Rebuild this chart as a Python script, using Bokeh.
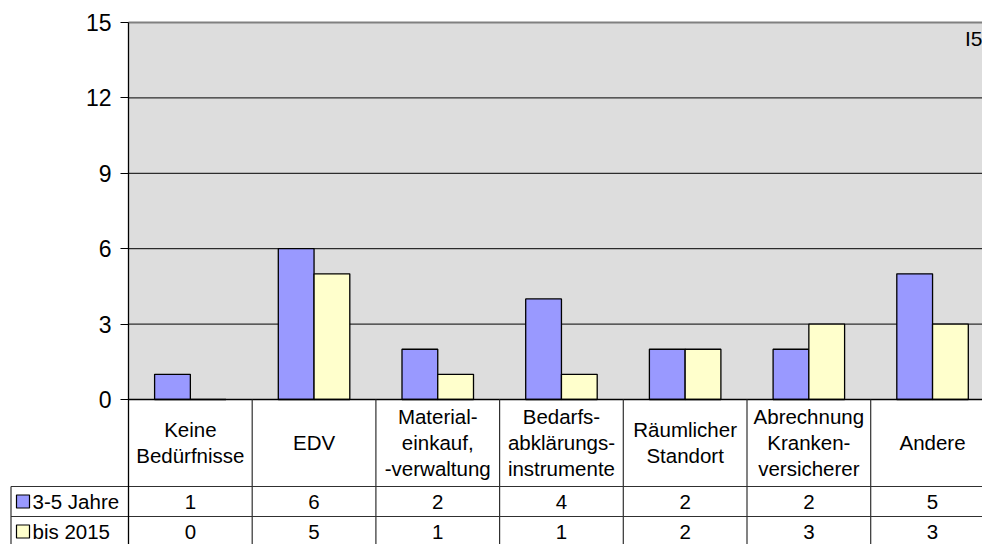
from bokeh.plotting import figure
from bokeh.models import Range1d, FixedTicker
from bokeh.core.properties import value
from bokeh.embed import file_html
from bokeh.resources import INLINE

# ---- data ----
categories = ["Keine\nBedürfnisse", "EDV", "Material-\neinkauf,\n-verwaltung",
              "Bedarfs-\nabklärungs-\ninstrumente", "Räumlicher\nStandort",
              "Abrechnung\nKranken-\nversicherer", "Andere"]
series_names = ["3-5 Jahre", "bis 2015"]
values_3_5 = [1, 6, 2, 4, 2, 2, 5]
values_2015 = [0, 5, 1, 1, 2, 3, 3]
y_ticks = [0, 3, 6, 9, 12, 15]
corner_label = "I5"

# ---- layout constants (figure pixel coordinates) ----
FONT = "Liberation Sans"
W, H = 982, 544
PX_X = 123.7          # pixels per category
PX_Y = 377 / 15.0     # pixels per unit
frame_left_px = 9
frame_top_px = 2
axis_px = 128
zero_px = 399
top15_px = 22
bottom_px = H
right_px = W

x_start = -(axis_px - frame_left_px) / PX_X
x_end = (right_px - axis_px) / PX_X
y_start = -(bottom_px - zero_px) / PX_Y
y_end = y_ticks[-1] + (top15_px - frame_top_px) / PX_Y

def py(screen_y):
    return -(screen_y - zero_px) / PX_Y

def px(screen_x):
    return (screen_x - axis_px) / PX_X

n = len(categories)
centers = [i + 0.5 for i in range(n)]
bw = 0.289
off = 0.1445

p = figure(width=W, height=H, x_range=Range1d(x_start, x_end), y_range=Range1d(y_start, y_end),
           output_backend="svg", toolbar_location=None, x_axis_location=None,
           y_axis_location="left", min_border_left=frame_left_px, min_border_right=0,
           min_border_top=frame_top_px, min_border_bottom=0)
p.outline_line_color = None
p.background_fill_color = "white"
p.border_fill_color = "white"
p.xgrid.visible = False
p.ygrid.visible = False

# plot area background
p.quad(left=[0], right=[x_end], bottom=[0], top=[y_ticks[-1]], fill_color="#DDDDDD", line_color=None)

# grid lines
inner = [t for t in y_ticks if 0 < t < y_ticks[-1]]
p.segment(x0=[0] * len(inner), x1=[x_end] * len(inner), y0=inner, y1=inner, line_color="black", line_width=1)
p.segment(x0=[0], x1=[x_end], y0=[y_ticks[-1]], y1=[y_ticks[-1]], line_color="#808080", line_width=2)

# bars
p.vbar(x=[c - off for c in centers], top=values_3_5, width=bw, bottom=0,
       fill_color="#9999FF", line_color="black", line_width=1.3)
p.vbar(x=[c + off for c in centers], top=values_2015, width=bw, bottom=0,
       fill_color="#FFFFCC", line_color="black", line_width=1.3)

# y axis (drawn at x = 0, its line continues down as the table's border)
ax = p.yaxis[0]
ax.fixed_location = 0
ax.ticker = FixedTicker(ticks=y_ticks)
ax.bounds = (y_start, y_ticks[-1])
ax.minor_tick_line_color = None
ax.major_tick_out = 8
ax.major_tick_in = 0
ax.axis_line_color = "black"
ax.axis_line_width = 1.3
ax.major_tick_line_color = "black"
ax.major_label_text_font = FONT
ax.major_label_text_font_size = "23px"
ax.major_label_text_color = "black"
ax.major_label_standoff = 9

# table lines
row1_top = py(486)
row2_top = py(516)
left_border = px(10.5)
p.segment(x0=[0], x1=[x_end], y0=[0], y1=[0], line_color="black", line_width=1.3)
p.segment(x0=[left_border, left_border], x1=[x_end, x_end], y0=[row1_top, row2_top], y1=[row1_top, row2_top],
          line_color="#303030", line_width=1.2)
bounds = list(range(1, n + 1))
p.segment(x0=bounds, x1=bounds, y0=[0] * n, y1=[y_start] * n, line_color="#303030", line_width=1.2)
p.segment(x0=[left_border], x1=[left_border], y0=[row1_top], y1=[y_start], line_color="#303030", line_width=1.2)

# category labels (header row)
p.text(x=centers, y=[py(442)] * n, text=categories, text_font=value(FONT), text_font_size="20.5px",
       text_align="center", text_baseline="middle", text_line_height=1.15, text_color="black")

# values rows
row_ys = [py(501), py(531)]
for vals, ry in zip([values_3_5, values_2015], row_ys):
    p.text(x=centers, y=[ry] * n, text=[str(v) for v in vals], text_font=value(FONT), text_font_size="20.5px",
           text_align="center", text_baseline="middle", text_color="black")

# legend keys
key_x = px(22.5)
p.scatter(x=[key_x, key_x], y=row_ys, marker="square", size=13,
          fill_color=["#9999FF", "#FFFFCC"], line_color="black", line_width=1.2)
p.text(x=[px(32)] * 2, y=row_ys, text=series_names, text_font=value(FONT), text_font_size="20.5px",
       text_align="left", text_baseline="middle", text_color="black")

# corner label
p.text(x=[x_end], y=[py(38)], text=[corner_label], text_font=value(FONT),
       text_font_size="21px", text_align="right", text_baseline="middle", text_color="black")

open("out.html", "w").write(file_html(p, INLINE))
